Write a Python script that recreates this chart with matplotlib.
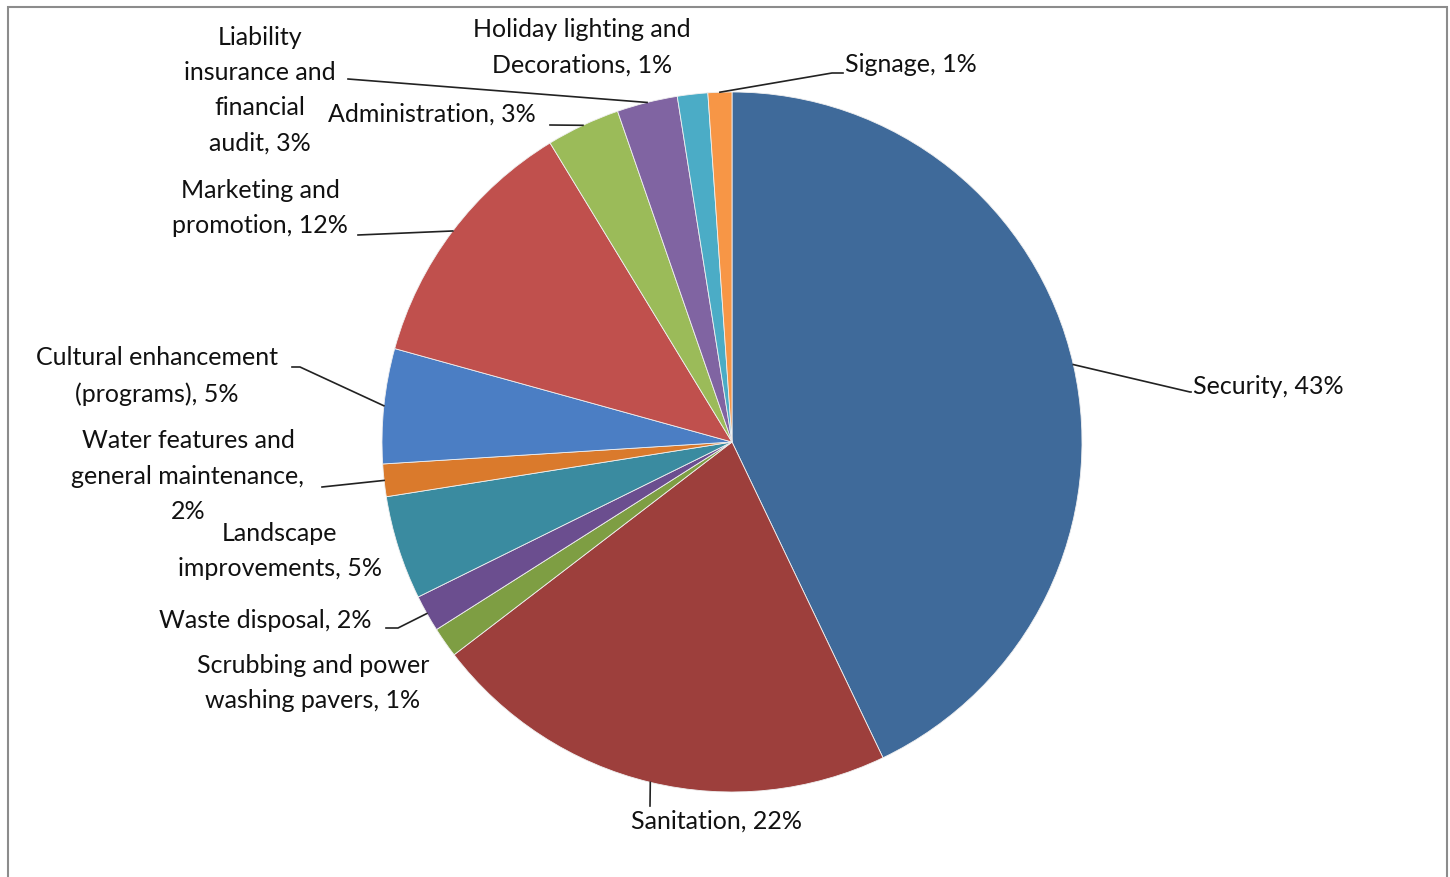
import numpy as np
import matplotlib.pyplot as plt
from matplotlib.patches import Rectangle

# Budget shares (%), clockwise from 12 o'clock
names = ["Security", "Sanitation", "Scrubbing and power\nwashing pavers",
         "Waste disposal", "Landscape\nimprovements",
         "Water features and\ngeneral maintenance,\n", "Cultural enhancement\n(programs)",
         "Marketing and\npromotion", "Administration",
         "Liability\ninsurance and\nfinancial\naudit", "Holiday lighting and\nDecorations",
         "Signage"]
shares = [42.9, 21.7, 1.4, 1.7, 4.8, 1.5, 5.3, 12.0, 3.4, 2.8, 1.4, 1.1]
colors = ["#3F6A9A", "#9D3F3C", "#7E9E43", "#6B4E8F", "#3A8BA0", "#DA7A2C",
          "#4B7EC4", "#C0504D", "#9BBB59", "#8064A2", "#4BACC6", "#F79646"]

# label placement in pixel coords (x, y from top), alignment, and leader elbow (or None)
label_pos = [(1193, 386, "left"), (717, 821, "center"), (313, 683, "center"),
             (265, 620, "center"), (280, 551, "center"), (188, 476, "center"),
             (157, 376, "center"), (260, 208, "center"), (432, 114, "center"),
             (260, 90, "center"), (582, 47, "center"), (845, 64, "left")]
leader_end = [(1190, 392), (650, 806), None, (386, 628), None, (322, 487),
              (292, 367), (358, 235), (550, 125), (348, 79), None, (832, 73)]
leader_mid = [None, None, None, (398, 628), None, None,
              (300, 367), None, None, None, None, None]

W, H = 1450, 877
cx, cy, R = 732, H - 442, 350

plt.rcParams['font.family'] = ['Lato', 'DejaVu Sans']

fig = plt.figure(figsize=(14.5, 8.77), dpi=100)
ax = fig.add_axes([0, 0, 1, 1])

# outer chart frame
ax.add_patch(Rectangle((8.5, -10), 1439, H - 6.5 + 10, fill=False, edgecolor='#8c8c8c', linewidth=1.5))

wedges, _ = ax.pie(shares, colors=colors, center=(cx, cy), radius=R,
                   startangle=90, counterclock=False, frame=True,
                   wedgeprops=dict(edgecolor='#f0f0f0', linewidth=0.6))
ax.set_xlim(0, W)
ax.set_ylim(0, H)
ax.set_aspect('equal')
ax.axis('off')

for i, w in enumerate(wedges):
    pct = f"{shares[i]:.0f}%"
    if names[i].endswith("\n"):
        txt = names[i] + pct
    else:
        txt = f"{names[i]}, {pct}"
    x, y, ha = label_pos[i]
    ax.text(x, H - y, txt, ha=ha, va='center', fontsize=18, color='#111111',
            linespacing=1.64)
    if leader_end[i] is not None:
        ang = np.deg2rad((w.theta1 + w.theta2) / 2)
        px = cx + R * np.cos(ang)
        py = cy + R * np.sin(ang)
        xs, ys = [px], [py]
        if leader_mid[i] is not None:
            xs.append(leader_mid[i][0])
            ys.append(H - leader_mid[i][1])
        ex, ey = leader_end[i]
        xs.append(ex)
        ys.append(H - ey)
        if ha == "left":
            xs.append(x - 2)
            ys.append(H - ey)
        ax.plot(xs, ys, color='#222222', linewidth=1.2)

fig.savefig("out.png", dpi=100)
